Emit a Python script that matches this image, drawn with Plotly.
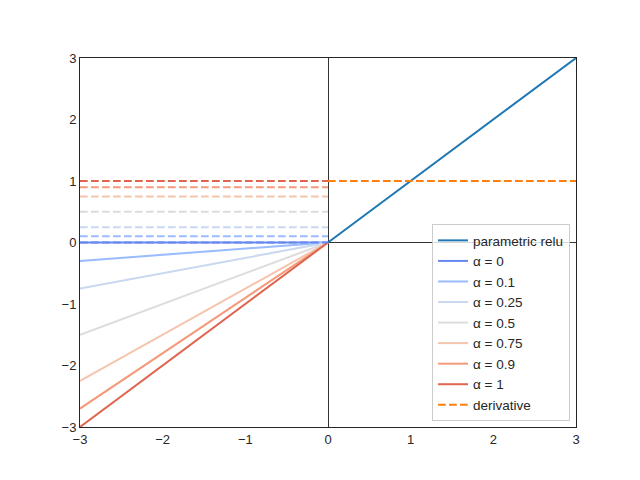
import plotly.graph_objects as go

alphas = [0, 0.1, 0.25, 0.5, 0.75, 0.9, 1]
labels = ["α = 0", "α = 0.1", "α = 0.25", "α = 0.5", "α = 0.75", "α = 0.9", "α = 1"]
colors = ["#6788ee", "#9abbff", "#c9d7f0", "#dddcdc", "#f5c4ac", "#f49a7b", "#e0654f"]

x_neg = [-3, 0]
x_pos = [0, 3]
relu_pos = [0, 3]
# value of each alpha line at x = -3 (line ends at 0 at x = 0)
neg_left = [0, -0.3, -0.75, -1.5, -2.25, -2.7, -3]
deriv_pos = [1, 1]

DASH = "7.7px,3.3px"

fig = go.Figure()

fig.add_trace(go.Scatter(x=x_pos, y=relu_pos, mode="lines", line=dict(color="#1f77b4", width=2),
                         name="parametric relu"))

for a, lab, col, yl in zip(alphas, labels, colors, neg_left):
    fig.add_trace(go.Scatter(x=x_neg, y=[yl, 0], mode="lines", line=dict(color=col, width=2), name=lab))

for a, col in zip(alphas, colors):
    fig.add_trace(go.Scatter(x=x_neg, y=[a, a], mode="lines", showlegend=False,
                             line=dict(color=col, width=2, dash=DASH)))

fig.add_trace(go.Scatter(x=x_pos, y=deriv_pos, mode="lines", name="derivative",
                         line=dict(color="#ff7f0e", width=2, dash=DASH)))

axis_style = dict(range=[-3, 3], tickvals=[-3, -2, -1, 0, 1, 2, 3],
                  ticktext=["−3", "−2", "−1", "0", "1", "2", "3"],
                  showgrid=False, zeroline=True, zerolinecolor="#333333", zerolinewidth=1,
                  showline=True, linecolor="#262626", linewidth=1, mirror=True,
                  ticks="", tickfont=dict(size=13, color="#262626"))

fig.update_layout(
    width=624, height=464,
    margin=dict(l=72, r=56, t=50, b=45),
    plot_bgcolor="white", paper_bgcolor="white",
    font=dict(family="Liberation Sans, Arial, sans-serif", color="#262626"),
    xaxis=dict(**axis_style),
    yaxis=dict(**axis_style),
    showlegend=True,
    legend=dict(x=0.988, y=0.016, xanchor="right", yanchor="bottom",
                bgcolor="rgba(255,255,255,0.8)", bordercolor="#cccccc", borderwidth=1,
                font=dict(size=13.5, color="#262626"), tracegroupgap=0,
                entrywidth=113),
)

fig.write_html("out.html")
